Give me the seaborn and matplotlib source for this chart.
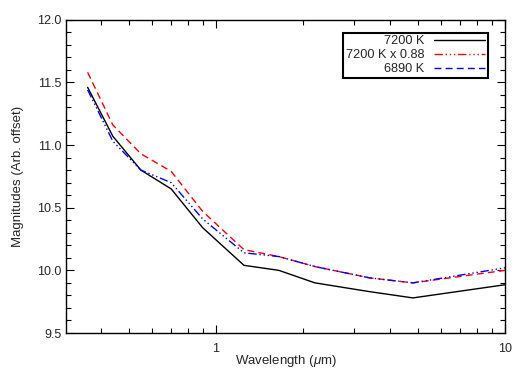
import matplotlib
matplotlib.use("Agg")
import matplotlib.pyplot as plt
import seaborn as sns
import numpy as np
import pandas as pd
from matplotlib.lines import Line2D
from matplotlib.ticker import LogLocator, FixedLocator, MultipleLocator, NullFormatter

wavelength = [0.36, 0.44, 0.55, 0.70, 0.90, 1.25, 1.65, 2.2, 3.4, 4.8, 10.0]
mag_7200 = [11.46, 11.07, 10.80, 10.65, 10.34, 10.04, 10.00, 9.90, 9.83, 9.78, 9.885]
mag_7200_scaled = [11.58, 11.16, 10.93, 10.79, 10.47, 10.165, 10.11, 10.03, 9.94, 9.90, 10.00]
mag_6890 = [11.44, 11.03, 10.80, 10.70, 10.41, 10.14, 10.11, 10.03, 9.94, 9.90, 10.02]
labels = ["7200 K", "7200 K x 0.88", "6890 K"]
yticks = [9.5, 10.0, 10.5, 11.0, 11.5, 12.0]

sns.set_theme(style="ticks")
plt.rcParams['font.family'] = ['Liberation Sans', 'DejaVu Sans']
plt.rcParams['mathtext.fontset'] = 'custom'
plt.rcParams['mathtext.it'] = 'Liberation Sans:italic'

fig = plt.figure(figsize=(5.25, 3.75), dpi=100)
ax = fig.add_axes([0.1257, 0.112, 0.8363, 0.8355])

df = pd.DataFrame({"wl": wavelength, "a": mag_7200, "b": mag_7200_scaled, "c": mag_6890})

dashdot3 = (0, (6, 2, 1, 2, 1, 2, 1, 2))
dashed = (0, (5, 3))

sns.lineplot(data=df, x="wl", y="a", ax=ax, color="black", linewidth=1.0, linestyle="-")
sns.lineplot(data=df, x="wl", y="b", ax=ax, color="red", linewidth=1.0, linestyle=dashed)
sns.lineplot(data=df, x="wl", y="c", ax=ax, color="blue", linewidth=1.0, linestyle=dashdot3)

ax.set_xscale("log")
ax.set_xlim(0.303, 10)
ax.set_ylim(9.5, 12.0)
ax.set_yticks(yticks)
ax.set_yticklabels([f"{v:.1f}" for v in yticks])
ax.yaxis.set_minor_locator(MultipleLocator(0.1))
ax.xaxis.set_major_locator(FixedLocator([1, 10]))
ax.set_xticklabels(["1", "10"])
ax.xaxis.set_minor_locator(LogLocator(base=10, subs=np.arange(2, 10)))
ax.xaxis.set_minor_formatter(NullFormatter())

ax.tick_params(which="both", direction="in", top=True, right=True, labelsize=9, color="black", width=0.8)
ax.tick_params(which="major", length=6)
ax.tick_params(which="minor", length=3.5)
ax.tick_params(axis="x", pad=7)
for s in ax.spines.values():
    s.set_color("black")
    s.set_linewidth(1.0)

ax.set_xlabel(r"Wavelength ($\mu$m)", fontsize=9.5, labelpad=-1.5)
ax.set_ylabel("Magnitudes (Arb. offset)", fontsize=9.5, labelpad=9)

handles = [
    Line2D([], [], color="black", linewidth=1.0, linestyle="-"),
    Line2D([], [], color="red", linewidth=1.0, linestyle=dashdot3),
    Line2D([], [], color="blue", linewidth=1.0, linestyle=dashed),
]
leg = ax.legend(handles, labels, loc="upper right", bbox_to_anchor=(0.961, 0.958),
                borderaxespad=0, markerfirst=False, fontsize=9.2, fancybox=False,
                framealpha=1, edgecolor="black", handlelength=4.0, borderpad=0.2,
                labelspacing=0.15, handletextpad=0.8)
leg.get_frame().set_linewidth(1.5)

fig.savefig("out.png", dpi=100)
